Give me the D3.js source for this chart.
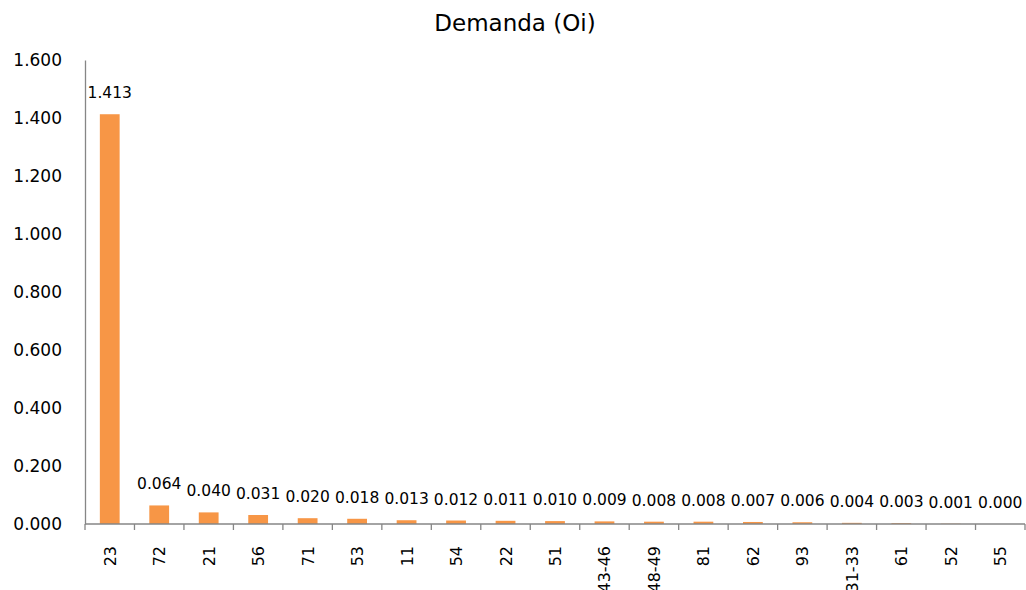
<!DOCTYPE html>
<html>
<head>
<meta charset="utf-8">
<script src="https://cdn.jsdelivr.net/npm/d3@7"></script>
<style>
  html, body { margin: 0; padding: 0; background: #fff; }
  svg { display: block; }
  text { font-family: "DejaVu Sans", Verdana, sans-serif; fill: #000; }
</style>
</head>
<body>
<script>
// Demand per sector code
const categories = ["23", "72", "21", "56", "71", "53", "11", "54", "22", "51",
                    "43-46", "48-49", "81", "62", "93", "31-33", "61", "52", "55"];
const demand = [1.413, 0.064, 0.040, 0.031, 0.020, 0.018, 0.013, 0.012, 0.011, 0.010,
                0.009, 0.008, 0.008, 0.007, 0.006, 0.004, 0.003, 0.001, 0.000];
const yTicks = [0, 0.2, 0.4, 0.6, 0.8, 1.0, 1.2, 1.4, 1.6];
const title = "Demanda (Oi)";

const W = 1026, H = 590;
const m = { left: 85, right: 1, top: 60, bottom: 66 };

// European-style number labels: "1.413", "0.200"
const fmt = v => d3.format(".3f")(v);

const svg = d3.select("body").append("svg")
  .attr("width", W).attr("height", H);

const x = d3.scaleBand()
  .domain(categories)
  .range([m.left, W - m.right])
  .paddingInner(0.6)
  .paddingOuter(0.3);

const y = d3.scaleLinear()
  .domain([0, 1.6])
  .range([H - m.bottom, m.top]);

const axisColor = "#868686";

// title
svg.append("text")
  .attr("x", 515).attr("y", 31)
  .attr("text-anchor", "middle")
  .style("font-size", "23px")
  .text(title);

// y axis: line plus labels, no tick marks
const yAxis = svg.append("g")
  .attr("transform", `translate(${m.left},0)`)
  .call(d3.axisLeft(y).tickValues(yTicks).tickFormat(fmt).tickSize(0).tickPadding(23));
yAxis.select(".domain").attr("stroke", axisColor).attr("stroke-width", 1.3);
yAxis.selectAll("text").style("font-size", "17px").attr("font-family", null);

// bars
svg.append("g").selectAll("rect")
  .data(demand)
  .join("rect")
  .attr("x", (d, i) => x(categories[i]))
  .attr("width", x.bandwidth())
  .attr("y", d => y(d))
  .attr("height", d => y(0) - y(d))
  .attr("fill", "#F79646");

// value labels above bars
svg.append("g").selectAll("text")
  .data(demand)
  .join("text")
  .attr("x", (d, i) => x(categories[i]) + x.bandwidth() / 2)
  .attr("y", d => y(d) - 16)
  .attr("text-anchor", "middle")
  .style("font-size", "15.5px")
  .text(fmt);

// x axis: baseline with tick marks at category boundaries
const xg = svg.append("g");
xg.append("line")
  .attr("x1", m.left).attr("x2", W - m.right)
  .attr("y1", y(0)).attr("y2", y(0))
  .attr("stroke", axisColor).attr("stroke-width", 1.3);
const step = x.step();
const bounds = d3.range(categories.length + 1).map(i => m.left + i * step);
xg.selectAll("line.tick")
  .data(bounds)
  .join("line")
  .attr("class", "tick")
  .attr("x1", d => d).attr("x2", d => d)
  .attr("y1", y(0)).attr("y2", y(0) + 6)
  .attr("stroke", axisColor).attr("stroke-width", 1.3);

// rotated category labels
xg.selectAll("text")
  .data(categories)
  .join("text")
  .attr("transform", d => `translate(${x(d) + x.bandwidth() / 2 + 6},${y(0) + 22}) rotate(-90)`)
  .attr("text-anchor", "end")
  .style("font-size", "16px")
  .text(d => d);
</script>
</body>
</html>
